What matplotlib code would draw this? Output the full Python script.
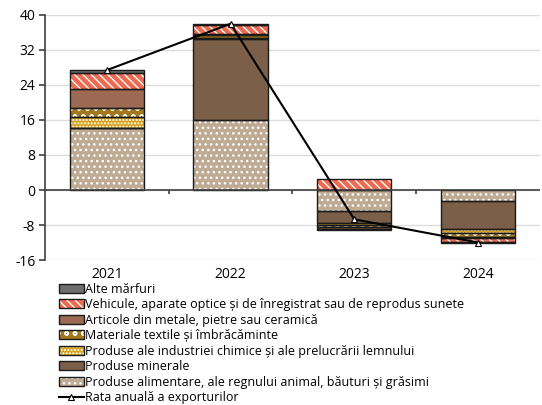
import matplotlib
matplotlib.use("Agg")
import matplotlib.pyplot as plt
from matplotlib.patches import Patch
from matplotlib.legend_handler import HandlerTuple
import numpy as np

plt.rcParams['font.family'] = ['Open Sans', 'DejaVu Sans']
plt.rcParams['hatch.linewidth'] = 1.0
plt.rcParams['axes.unicode_minus'] = False

categories = ['2021', '2022', '2023', '2024']
food = [14.1, 16.0, -4.7, -2.5]
minerals = [0.0, 18.4, -2.9, -6.5]
chemical = [2.5, 0.4, -0.4, -0.8]
textiles = [2.1, 0.6, -0.4, -0.9]
metals = [4.3, 0.3, -0.5, -0.2]
vehicles = [3.7, 2.1, 2.5, -1.0]
other = [0.7, 0.2, -0.2, -0.1]
export_rate = [27.4, 38.0, -6.7, -12.0]

series = [
    ("Produse alimentare, ale regnului animal, băuturi și grăsimi", food, '#bfab94', '...'),
    ("Produse minerale", minerals, '#7b5f48', None),
    ("Produse ale industriei chimice și ale prelucrării lemnului", chemical, '#d6a21c', '.....'),
    ("Materiale textile și îmbrăcăminte", textiles, '#a3771d', 'oo'),
    ("Articole din metale, pietre sau ceramică", metals, '#9c6a52', None),
    ("Vehicule, aparate optice și de înregistrat sau de reprodus sunete", vehicles, '#f06a50', '\\\\\\\\'),
    ("Alte mărfuri", other, '#6e6e6e', None),
]

fig = plt.figure(figsize=(5.42, 4.05), dpi=100)
ax = fig.add_axes([0.083, 0.358, 0.913, 0.605])

x = np.arange(len(categories))
width = 0.6
pos_base = np.zeros(len(categories))
neg_base = np.zeros(len(categories))
handles = []
for label, vals, color, hatch in series:
    vals = np.array(vals)
    bottoms = np.where(vals >= 0, pos_base, neg_base)
    ax.bar(x, vals, width, bottom=bottoms, color=color, hatch=hatch,
           edgecolor='white', linewidth=0, zorder=2)
    ax.bar(x, vals, width, bottom=bottoms, fill=False,
           edgecolor='#1a1a1a', linewidth=1.0, zorder=3)
    pos_base = pos_base + np.where(vals >= 0, vals, 0)
    neg_base = neg_base + np.where(vals < 0, vals, 0)
    h1 = Patch(facecolor=color, hatch=hatch, edgecolor='white', linewidth=0)
    h2 = Patch(fill=False, edgecolor='#1a1a1a', linewidth=1.0)
    handles.append(((h1, h2), label))

line, = ax.plot(x, export_rate, color='black', lw=1.5, marker='^', ms=5,
                mfc='white', mec='black', mew=0.8, zorder=5)

ax.set_xlim(-0.5, 3.5)
ax.set_ylim(-16, 40)
ax.set_yticks(np.arange(-16, 41, 8))
ax.yaxis.grid(True, color='#dcdcdc', lw=1.0, zorder=0)
ax.set_axisbelow(True)
ax.axhline(0, color='#404040', lw=1.2, zorder=4)
ax.vlines([0.5, 1.5, 2.5], -0.9, 0, color='#404040', lw=1.2, zorder=4)
ax.set_xticks(x)
ax.set_xticklabels(categories)
ax.tick_params(axis='x', length=0, pad=5, labelsize=10)
ax.tick_params(axis='y', length=4, width=1.2, color='#404040', labelsize=10, pad=3)
for s in ['top', 'right', 'bottom']:
    ax.spines[s].set_visible(False)
ax.spines['left'].set_color('#404040')
ax.spines['left'].set_linewidth(1.2)

leg_handles = [h for h, l in handles][::-1] + [line]
leg_labels = [l for h, l in handles][::-1] + ["Rata anuală a exporturilor"]
fig.legend(leg_handles, leg_labels, loc='upper left', bbox_to_anchor=(0.108, 0.302),
           frameon=False, fontsize=9, handlelength=2.0, handleheight=0.75,
           handletextpad=0.1, labelspacing=0.2, borderpad=0, borderaxespad=0,
           handler_map={tuple: HandlerTuple(ndivide=1, pad=0)})

fig.savefig('out.png', dpi=100)
